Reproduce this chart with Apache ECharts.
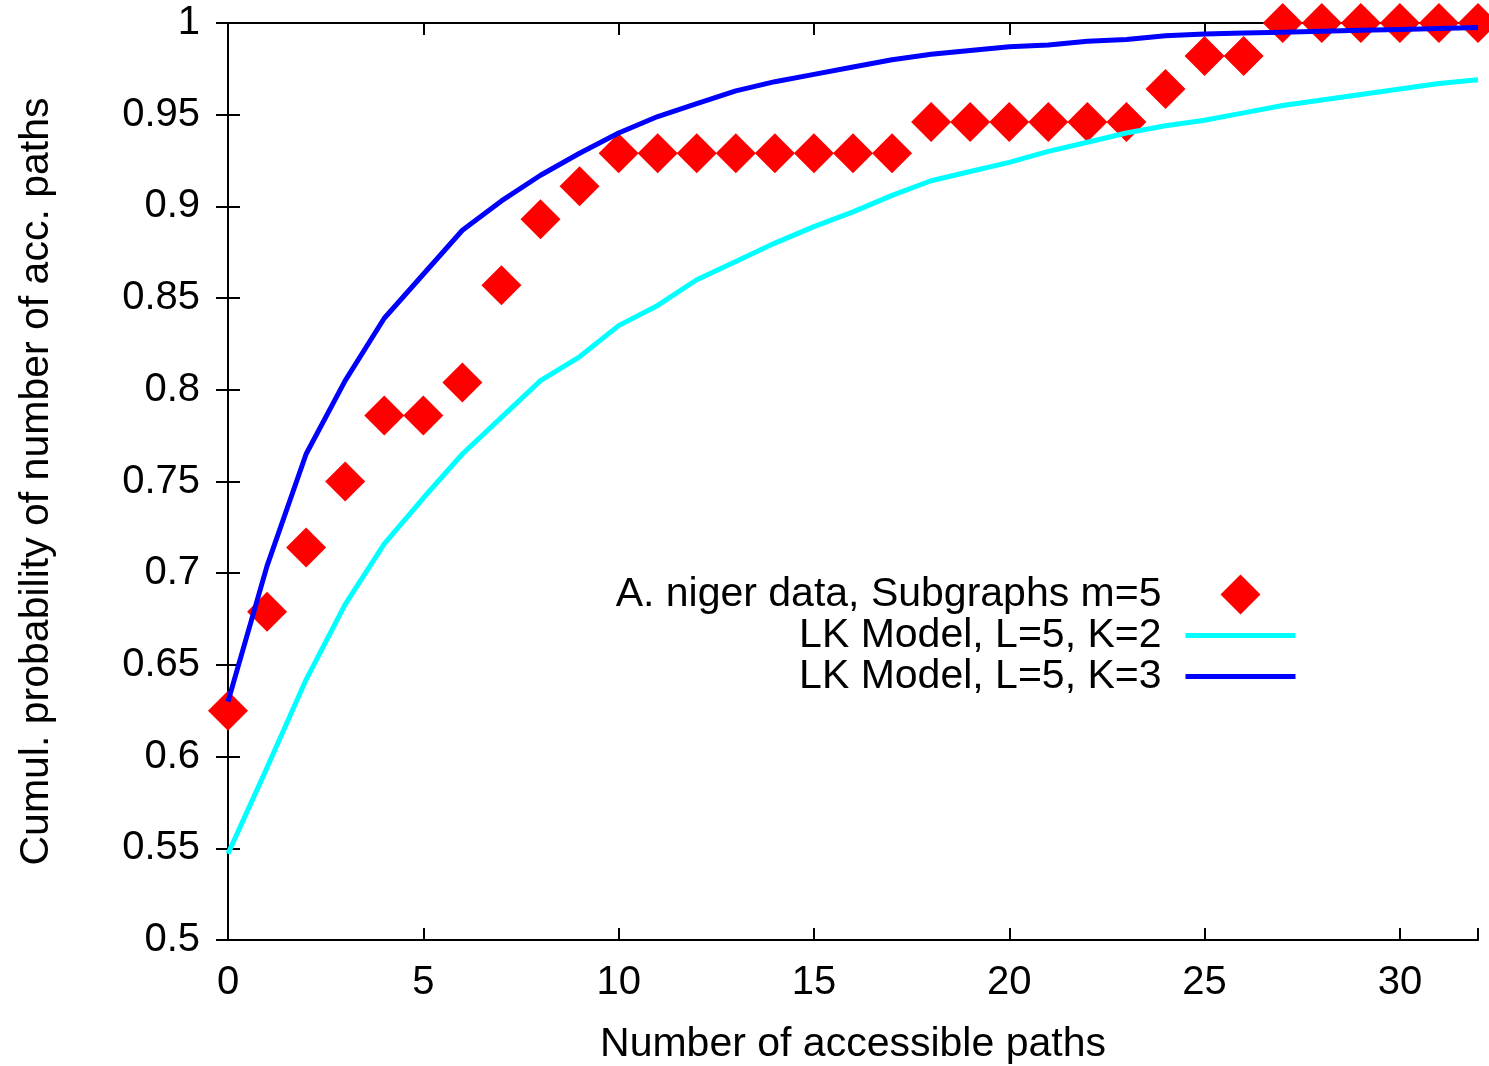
<!DOCTYPE html>
<html><head><meta charset="utf-8">
<script src="https://cdn.jsdelivr.net/npm/echarts@6/dist/echarts.min.js"></script>
<style>html,body{margin:0;padding:0;background:#fff}#c{width:1489px;height:1066px}</style>
</head><body><div id="c"></div>
<script>
const xValues = [0,1,2,3,4,5,6,7,8,9,10,11,12,13,14,15,16,17,18,19,20,21,22,23,24,25,26,27,28,29,30,31,32];
const nigerData = [0.625,0.679,0.714,0.750,0.786,0.786,0.804,0.857,0.893,0.911,0.929,0.929,0.929,0.929,0.929,0.929,0.929,0.929,0.946,0.946,0.946,0.946,0.946,0.946,0.964,0.982,0.982,1,1,1,1,1,1];
const lkK2 = [0.547,0.594,0.642,0.683,0.716,0.741,0.765,0.785,0.805,0.818,0.835,0.846,0.860,0.870,0.880,0.889,0.897,0.906,0.914,0.919,0.924,0.930,0.935,0.940,0.944,0.947,0.951,0.955,0.958,0.961,0.964,0.967,0.969];
const lkK3 = [0.630,0.704,0.765,0.805,0.839,0.863,0.887,0.903,0.917,0.929,0.940,0.949,0.956,0.963,0.968,0.972,0.976,0.980,0.983,0.985,0.987,0.988,0.990,0.991,0.993,0.994,0.9945,0.995,0.9955,0.996,0.9965,0.997,0.9975];
const xTicks = [0,5,10,15,20,25,30];
const legendNames = ['A. niger data, Subgraphs m=5','LK Model, L=5, K=2','LK Model, L=5, K=3'];

const pair = arr => xValues.map((x,i)=>[x,arr[i]]);
const font = 'Liberation Sans, Arial, sans-serif';
const FS = 40, FT = 41;
const chart = echarts.init(document.getElementById('c'), null, {renderer:'canvas'});
const axisLine = {show:true, lineStyle:{color:'#000', width:2}};
const tick = {show:true, inside:true, length:12, lineStyle:{color:'#000', width:2}};
chart.setOption({
  animation:false,
  backgroundColor:'#fff',
  grid:{left:228, right:11, top:23, bottom:126, containLabel:false, outerBoundsMode:'none'},
  legend:{
    orient:'vertical', align:'right', right:186, top:569, symbolKeepAspect:true,
    itemWidth:110, itemHeight:40, itemGap:0,
    textStyle:{fontFamily:font, fontSize:FT, color:'#000', padding:[0,19,0,0]},
    data:[
      {name:legendNames[0], icon:'path://M0,-1L1,0L0,1L-1,0Z'},
      {name:legendNames[1], itemStyle:{opacity:0}, lineStyle:{width:5}},
      {name:legendNames[2], itemStyle:{opacity:0}, lineStyle:{width:5}}
    ]
  },
  xAxis:[{
    type:'value', min:0, max:32, interval:5, position:'bottom',
    axisLine:axisLine, axisTick:tick, splitLine:{show:false},
    axisLabel:{fontFamily:font, fontSize:FS, color:'#000', margin:23,
      formatter:v=>xTicks.includes(v)?String(v):''},
    name:'Number of accessible paths', nameLocation:'middle', nameGap:84,
    nameTextStyle:{fontFamily:font, fontSize:FT, color:'#000'}
  },{
    type:'value', min:0, max:32, interval:5, position:'top',
    axisLine:axisLine, axisTick:tick, axisLabel:{show:false}, splitLine:{show:false}
  }],
  yAxis:[{
    type:'value', min:0.5, max:1, interval:0.05, position:'left',
    axisLine:axisLine, axisTick:tick, splitLine:{show:false},
    axisLabel:{fontFamily:font, fontSize:FS, color:'#000', margin:28,
      formatter:v=>String(parseFloat(v.toFixed(2)))},
    name:'Cumul. probability of number of acc. paths', nameLocation:'middle', nameGap:171,
    nameTextStyle:{fontFamily:font, fontSize:FT, color:'#000'}
  },{
    type:'value', min:0.5, max:1, interval:0.05, position:'right',
    axisLine:axisLine, axisTick:tick, axisLabel:{show:false}, splitLine:{show:false}
  }],
  series:[
    {name:legendNames[0], type:'scatter', symbol:'diamond', symbolSize:40,
     itemStyle:{color:'#ff0000', opacity:1}, data:pair(nigerData), clip:false, z:2},
    {name:legendNames[1], type:'line', symbol:'none', lineStyle:{color:'#00ffff', width:5},
     itemStyle:{color:'#00ffff'}, data:pair(lkK2), z:3},
    {name:legendNames[2], type:'line', symbol:'none', lineStyle:{color:'#0000ff', width:5},
     itemStyle:{color:'#0000ff'}, data:pair(lkK3), z:4}
  ]
});
</script></body></html>
